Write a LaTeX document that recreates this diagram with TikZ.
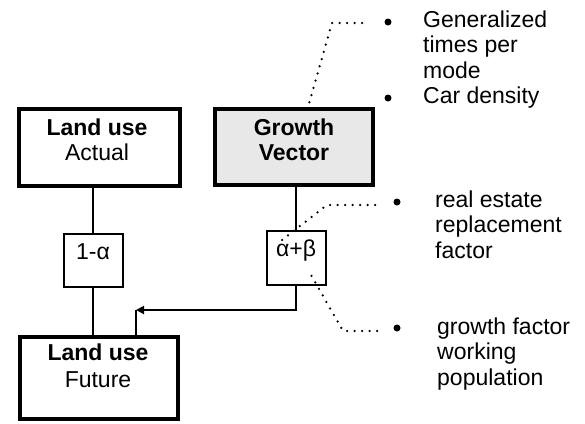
\documentclass[tikz,border=0pt]{standalone}
\usepackage{fontspec}
\setmainfont{Liberation Sans}
\usetikzlibrary{arrows.meta}
\begin{document}
\begin{tikzpicture}[x=1pt,y=-1pt,
  every node/.style={font=\fontsize{23}{25.5}\selectfont},
  bigbox/.style={draw, line width=3.8pt, inner sep=0pt},
  smallbox/.style={draw, line width=2pt, inner sep=0pt},
  conn/.style={line width=1.9pt},
  leader/.style={line width=2.5pt, line cap=round, dash pattern=on 0pt off 7.5pt},
  bul/.style={circle, fill, inner sep=0pt, minimum size=7pt},
  boxtext/.style={align=center, anchor=base, inner sep=0pt},
  note/.style={align=left, anchor=base west, inner sep=0pt},
]
\useasboundingbox (0,0) rectangle (585,423);

% boxes
\node[bigbox, minimum width=161pt, minimum height=77pt] (la) at (99.5,147.5) {};
\node[bigbox, fill=black!9, minimum width=158pt, minimum height=76pt] (gv) at (294,147) {};
\node[bigbox, minimum width=158pt, minimum height=82pt] (fu) at (99,378) {};
\node[smallbox, minimum width=59pt, minimum height=53pt] (oa) at (93,260.5) {};
\node[smallbox, minimum width=59pt, minimum height=54pt] (ab) at (296,258) {};

% box texts (anchor base = baseline of the last line)
\node[boxtext] (lat) at (97,160.5) {\textbf{Land use}\\Actual};
\node[boxtext] (gvt) at (294,160.5) {\textbf{Growth}\\\textbf{Vector}};
\node[boxtext] (fut) at (98,387.5) {\textbf{Land use}\\[2pt]Future};
\node[boxtext] (oat) at (93,259) {1-α};
\node[boxtext] (abt) at (296,256) {α+β};

% connectors
\draw[conn] (oa.north) -- (oa.north |- la.south);
\draw[conn] (oa.south) -- (oa.south |- fu.north);
\draw[conn] (ab.north) -- (ab.north |- gv.south);
\coordinate (corner) at (136,310);
\draw[conn, -{Triangle[length=8pt,width=8pt]}] (ab.south) |- (corner);
\draw[conn] (corner) -- (corner |- fu.north);

% bullets and notes
\node[bul] (b1) at (388,22) {};
\node[bul] (b2) at (388,98) {};
\node[bul] (b3) at (397,202) {};
\node[bul] (b4) at (397,328) {};
\node[note] (n1) at (423,78) {Generalized\\times per\\mode};
\node[note] (n2) at (423,103) {Car density};
\node[note] (n3) at (435,258) {real estate\\replacement\\factor};
\node[note] (n4) at (437,385) {growth factor\\working\\population};

% dotted leaders
\coordinate (l1) at (362,23);
\coordinate (l1k) at (332,23);
\coordinate (l3) at (375,205);
\coordinate (l3k) at (327,205);
\coordinate (l3e) at (282,240);
\coordinate (l4) at (377,331);
\coordinate (l4k) at (343,331);
\coordinate (l4e) at (311,275);
\draw[leader] (l1) -- (l1k) -- (308,107);
\draw[leader] (l3) -- (l3k) -- (l3e);
\draw[leader] (l4) -- (l4k) -- (l4e);
\end{tikzpicture}
\end{document}
